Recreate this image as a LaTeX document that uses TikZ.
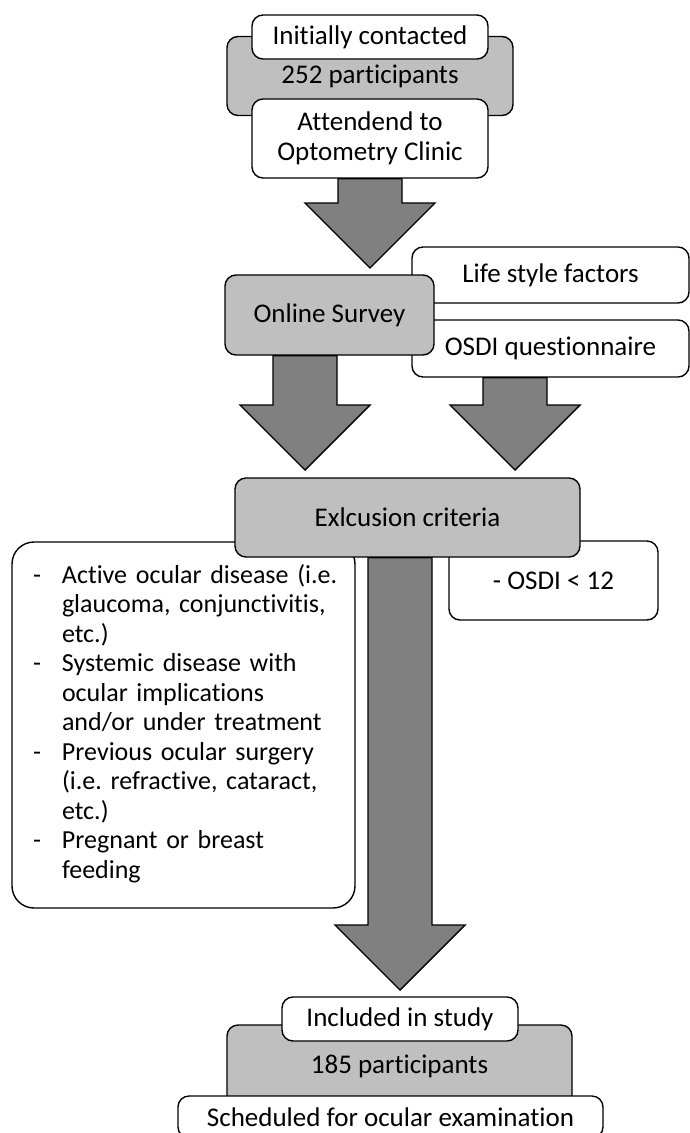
\documentclass[tikz,border=0pt]{standalone}
\usepackage{fontspec}
\setmainfont{Carlito}[Ligatures=NoCommon]
\usetikzlibrary{calc}

\definecolor{boxgrey}{RGB}{191,191,191}
\definecolor{arrowgrey}{RGB}{128,128,128}

% big block arrow from the top (#1) to the tip (#2)
\newcommand{\downblock}[2]{%
  \draw[fatarrow] let \p1=(#1), \p2=(#2) in
    ({\x1-32pt},\y1) -- ({\x1-32pt},{\y2+65pt}) -- ({\x1-65pt},{\y2+65pt}) -- (\x1,\y2)
    -- ({\x1+65pt},{\y2+65pt}) -- ({\x1+32pt},{\y2+65pt}) -- ({\x1+32pt},\y1) -- cycle;}

\begin{document}
\frenchspacing
\begin{tikzpicture}[x=1pt, y=-1pt,
  box/.style={draw=black, line width=1.4pt, rounded corners=11pt, fill=white,
    inner sep=0pt, align=center, text=black, font={\fontsize{27pt}{29.5pt}\selectfont}},
  greybox/.style={box, fill=boxgrey},
  fatarrow/.style={draw=black, line width=1.4pt, fill=arrowgrey, line join=miter}]
  \useasboundingbox (0,0) rectangle (690,1133);

  % initially contacted -- 252 -- attended
  \node[greybox, minimum width=286pt, minimum height=79pt] (count1) at (370,76) {252 participants};
  \node[box, minimum width=236pt, minimum height=44pt] (initial) at (370,37) {Initially contacted};
  \node[box, minimum width=236pt, minimum height=79pt] (attend) at (370,138.5) {Attendend to\\Optometry Clinic};

  % survey with its two parts
  \node[box, minimum width=277pt, minimum height=56pt] (lifestyle) at (550.5,275) {Life style factors};
  \node[box, minimum width=277pt, minimum height=57pt] (osdiq) at (550.5,348.5) {OSDI questionnaire};
  \node[greybox, minimum width=209pt, minimum height=80pt] (survey) at (329.5,315) {Online Survey};

  % exclusion criteria
  \node[box, rounded corners=22pt, minimum width=343pt, minimum height=366pt,
        text width=301pt, inner xsep=21pt, align=left,
        font={\fontsize{26pt}{29.5pt}\selectfont}] (criteria) at (183.5,725)
    {\begin{tabular}{@{}p{29pt}@{}l@{}}
      - & Active ocular disease (i.e.\\
        & glaucoma, conjunctivitis,\\
        & etc.)\\
      - & Systemic disease with\\
        & ocular implications\\
        & and/or under treatment\\
      - & Previous ocular surgery\\
        & (i.e. refractive, cataract,\\
        & etc.)\\
      - & Pregnant or breast\\
        & feeding
    \end{tabular}};
  \node[box, minimum width=209pt, minimum height=79pt] (osdicut) at (553.5,580.5) {- OSDI < 12};
  \node[greybox, minimum width=345pt, minimum height=79pt] (excl) at (407.5,517.5) {Exlcusion criteria};

  % included -- 185 -- scheduled
  \node[greybox, minimum width=345pt, minimum height=82pt] (count2) at (399.5,1066) {185 participants};
  \node[box, minimum width=236pt, minimum height=44pt] (included) at (400,1019) {Included in study};
  \node[box, minimum width=425pt, minimum height=42pt] (scheduled) at (390.5,1117) {Scheduled for ocular examination};

  % arrows
  \coordinate (tipa) at (370,268);
  \coordinate (tipb) at (305,470);
  \coordinate (tipc) at (515,470);
  \coordinate (tipd) at (400,990);
  \downblock{attend.south}{tipa}
  \downblock{survey.south -| tipb}{tipb}
  \downblock{osdiq.south -| tipc}{tipc}
  \downblock{excl.south -| tipd}{tipd}
\end{tikzpicture}
\end{document}
